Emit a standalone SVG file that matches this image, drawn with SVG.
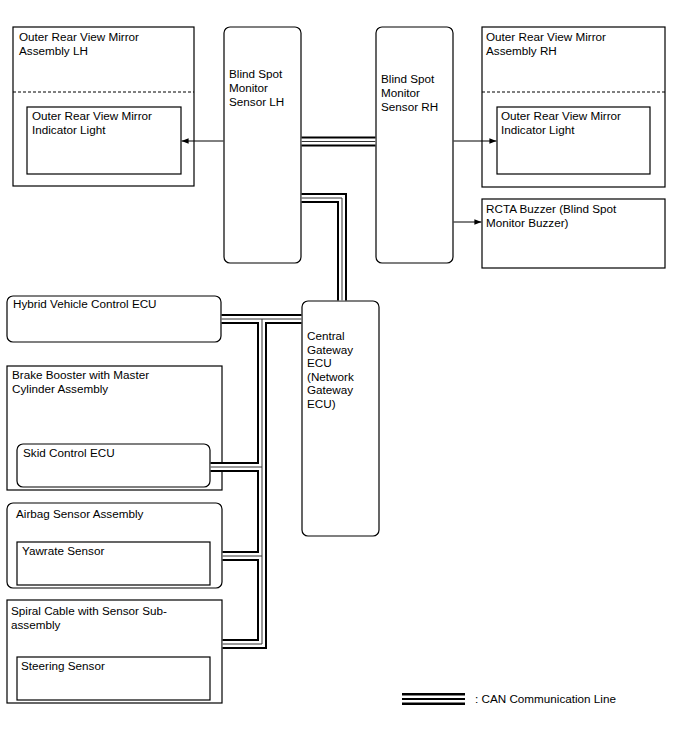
<svg xmlns="http://www.w3.org/2000/svg" width="688" height="755" viewBox="0 0 688 755">
<defs>
<style>
text{font-family:"Liberation Sans",Arial,sans-serif;font-size:11.7px;fill:#000}
.box{fill:#fff;stroke:#000;stroke-width:1.2}
.dash{stroke:#000;stroke-width:1.2;stroke-dasharray:3,2;fill:none}
.arrow{stroke:#000;stroke-width:1;fill:none}
.canB{stroke:#000;stroke-width:10;fill:none;stroke-linejoin:miter}
.canW{stroke:#fff;stroke-width:6;fill:none;stroke-linejoin:miter}
.canM{stroke:#333;stroke-width:1;fill:none;stroke-linejoin:miter}
</style>
<marker id="ah" viewBox="0 0 10 10" refX="10" refY="5" markerWidth="9" markerHeight="7" markerUnits="userSpaceOnUse" orient="auto">
<path d="M0,1 L10,5 L0,9 Z" fill="#000"/>
</marker>
</defs>
<rect width="688" height="755" fill="#fff"/>

<g id="mirror-lh">
<rect class="box" x="13" y="27" width="181" height="159"/>
<line class="dash" x1="13" y1="92" x2="194" y2="92"/>
<text x="19" y="41">Outer Rear View Mirror</text>
<text x="19" y="55">Assembly LH</text>
</g>
<g id="indicator-lh">
<rect class="box" x="27" y="107" width="154" height="67"/>
<text x="32" y="120">Outer Rear View Mirror</text>
<text x="32" y="134">Indicator Light</text>
</g>

<g id="sensor-lh">
<rect class="box" x="224" y="27" width="77" height="236" rx="6"/>
<text x="229" y="78">Blind Spot</text>
<text x="229" y="92">Monitor</text>
<text x="229" y="106">Sensor LH</text>
</g>

<g id="sensor-rh">
<rect class="box" x="376" y="27" width="77" height="236" rx="6"/>
<text x="381" y="83">Blind Spot</text>
<text x="381" y="97">Monitor</text>
<text x="381" y="111">Sensor RH</text>
</g>

<g id="mirror-rh">
<rect class="box" x="482" y="27" width="183" height="160"/>
<line class="dash" x1="482" y1="92" x2="665" y2="92"/>
<text x="486" y="41">Outer Rear View Mirror</text>
<text x="486" y="55">Assembly RH</text>
</g>
<g id="indicator-rh">
<rect class="box" x="497" y="107" width="153" height="67"/>
<text x="501" y="120">Outer Rear View Mirror</text>
<text x="501" y="134">Indicator Light</text>
</g>

<g id="rcta-buzzer">
<rect class="box" x="482" y="199" width="183" height="69"/>
<text x="486" y="213">RCTA Buzzer (Blind Spot</text>
<text x="486" y="227">Monitor Buzzer)</text>
</g>

<g id="hv-ecu">
<rect class="box" x="7" y="296" width="214" height="46" rx="6"/>
<text x="13" y="308">Hybrid Vehicle Control ECU</text>
</g>

<g id="gateway">
<rect class="box" x="302" y="301" width="77" height="235" rx="6"/>
<text x="307" y="340">Central</text>
<text x="307" y="353.5">Gateway</text>
<text x="307" y="367">ECU</text>
<text x="307" y="380.5">(Network</text>
<text x="307" y="394">Gateway</text>
<text x="307" y="407.5">ECU)</text>
</g>

<g id="brake-booster">
<rect class="box" x="7" y="366" width="215" height="124"/>
<text x="12" y="379">Brake Booster with Master</text>
<text x="12" y="393">Cylinder Assembly</text>
</g>
<g id="skid-ecu">
<rect class="box" x="17" y="444" width="193" height="43" rx="6"/>
<text x="23" y="457">Skid Control ECU</text>
</g>

<g id="airbag">
<rect class="box" x="7" y="503" width="215" height="85" rx="6"/>
<text x="16" y="518">Airbag Sensor Assembly</text>
</g>
<g id="yawrate">
<rect class="box" x="17" y="542" width="193" height="43"/>
<text x="22" y="555">Yawrate Sensor</text>
</g>

<g id="spiral-cable">
<rect class="box" x="7" y="600" width="215" height="103"/>
<text x="11" y="615">Spiral Cable with Sensor Sub-</text>
<text x="11" y="629">assembly</text>
</g>
<g id="steering">
<rect class="box" x="17" y="657" width="193" height="43"/>
<text x="21" y="670">Steering Sensor</text>
</g>

<g id="connectors">
<path class="arrow" d="M223.4,141 H181.6" marker-end="url(#ah)"/>
<path class="arrow" d="M453.6,141 H496.4" marker-end="url(#ah)"/>
<path class="arrow" d="M453.6,222 H481.4" marker-end="url(#ah)"/>
<g id="can">
<path class="canB" d="M301.6,141.5 H375.4"/>
<path class="canB" d="M301.6,198 H342 V300.4"/>
<path class="canB" d="M221.6,319 H301.4"/>
<path class="canB" d="M262,319 V644 H222.6"/>
<path class="canB" d="M210.6,467 H262"/>
<path class="canB" d="M222.6,556 H262"/>
<path class="canW" d="M301.6,141.5 H375.4"/>
<path class="canW" d="M301.6,198 H342 V300.4"/>
<path class="canW" d="M221.6,319 H301.4"/>
<path class="canW" d="M262,319 V644 H222.6"/>
<path class="canW" d="M210.6,467 H262"/>
<path class="canW" d="M222.6,556 H262"/>
<path class="canM" d="M301.6,141.5 H375.4"/>
<path class="canM" d="M301.6,198 H342 V300.4"/>
<path class="canM" d="M221.6,319 H301.4"/>
<path class="canM" d="M262,319 V644 H222.6"/>
<path class="canM" d="M210.6,467 H262"/>
<path class="canM" d="M222.6,556 H262"/>
</g>
</g>

<g id="legend">
<line x1="402" y1="699" x2="465" y2="699" stroke="#000" stroke-width="12"/>
<line x1="402" y1="699" x2="465" y2="699" stroke="#fff" stroke-width="7"/>
<line x1="402" y1="699" x2="465" y2="699" stroke="#000" stroke-width="2.2"/>
<text x="475" y="703">: CAN Communication Line</text>
</g>
</svg>
